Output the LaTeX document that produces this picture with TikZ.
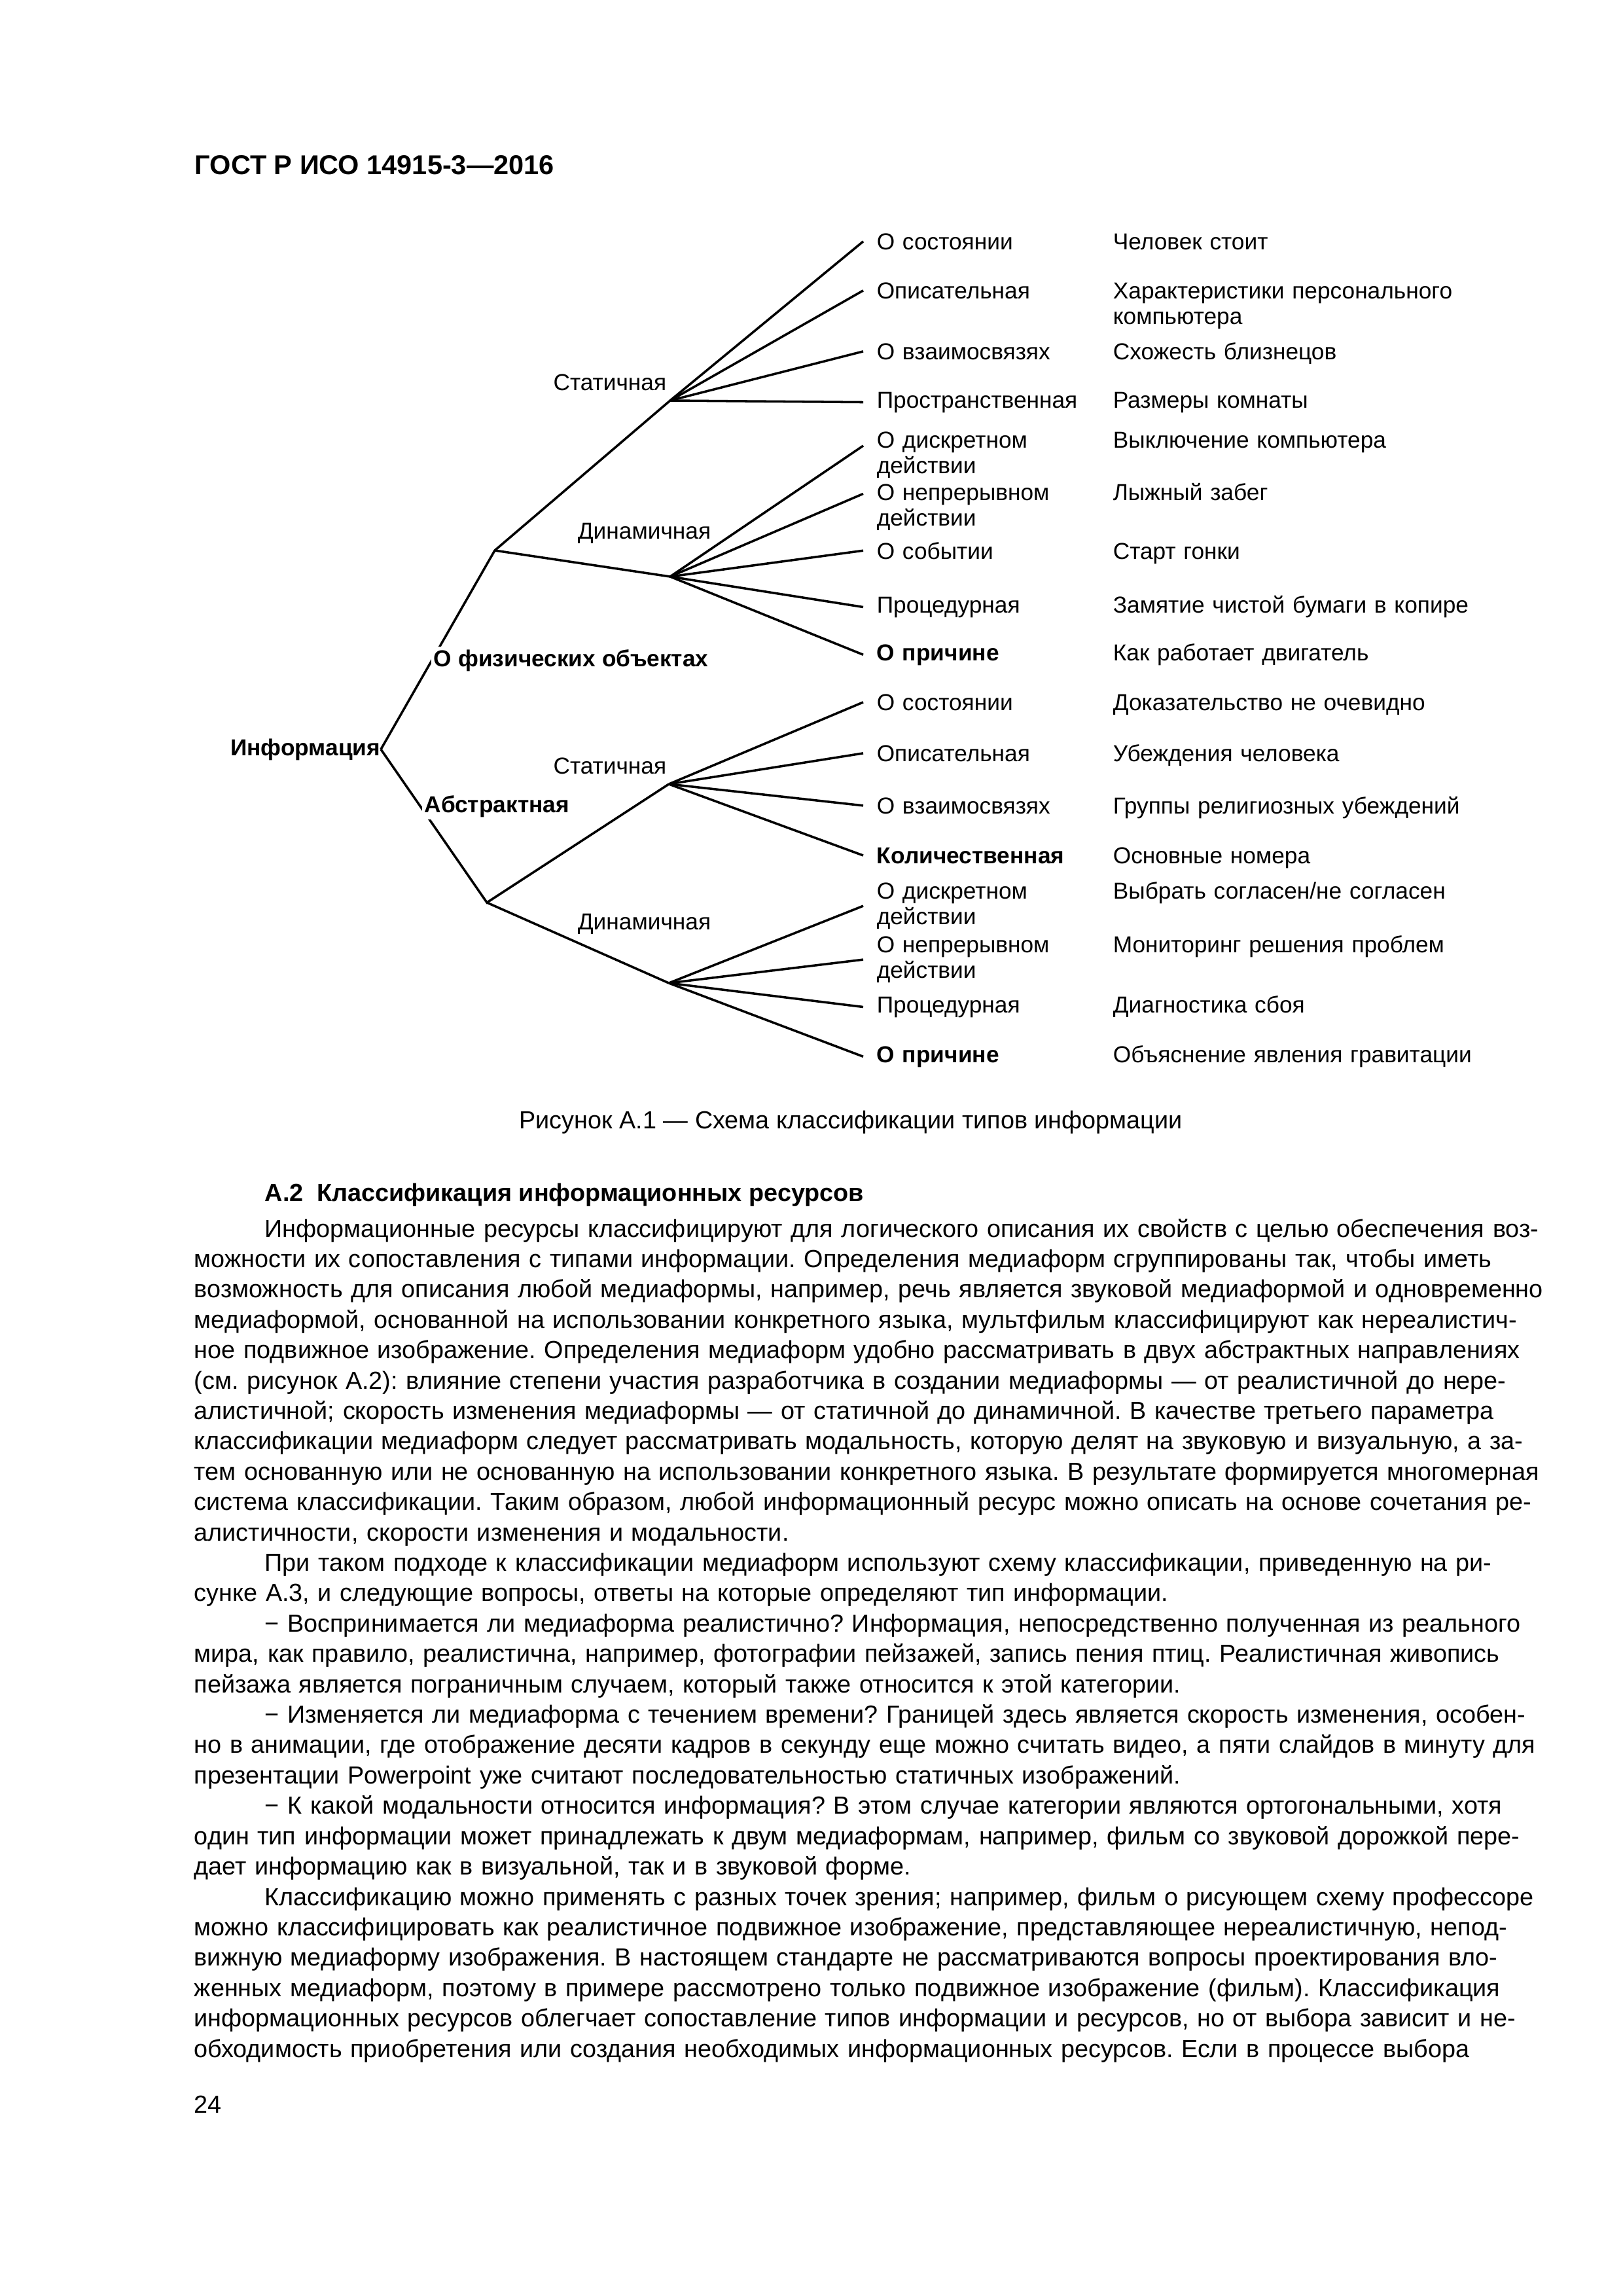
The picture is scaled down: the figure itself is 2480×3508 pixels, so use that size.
\documentclass[tikz,border=0pt]{standalone}
\usepackage{fontspec}
\setmainfont{Liberation Sans}
\frenchspacing
\newcommand\bodyfont{\fontsize{9.1}{11.18}\selectfont}
\newcommand\diagfont{\fontsize{8.5}{9.6}\selectfont}
\newcommand\jline[1]{\makebox[\linewidth][s]{#1}\par}
\newcommand\eline[1]{#1\par}
\newcommand\firstind{\hspace*{26pt}}
\begin{document}
\begin{tikzpicture}[x=0.2409pt,y=-0.2409pt,
	branch/.style={line width=0.85pt},
	lbl/.style={inner sep=0pt,font=\diagfont},
	tp/.style={anchor=base west,inner xsep=4.8pt,inner ysep=0pt,text width=90pt,align=left,font=\diagfont},
	ex/.style={anchor=base west,inner sep=0pt,text width=160pt,align=left,font=\diagfont}]
		\useasboundingbox (0,0) rectangle (2480,3508);
		\node[anchor=base west,inner sep=0pt,font=\fontsize{10}{12}\selectfont\bfseries] (gost) at (297,266) {ГОСТ Р ИСО 14915-3—2016};
		% tree
		\node[lbl,anchor=base east,font=\diagfont\bfseries] (info) at (582,1154) {Информация};
		\coordinate (j1) at (756,841);
		\coordinate (s1) at (1024,612);
		\coordinate (d1) at (1024,881);
		\coordinate (j2) at (744,1379);
		\coordinate (s2) at (1022,1198);
		\coordinate (d2) at (1022,1502);
		\draw[branch] (info.east)--(j1)--(s1);
		\draw[branch] (j1)--(d1);
		\draw[branch] (info.east)--(j2)--(s2);
		\draw[branch] (j2)--(d2);
		\node[anchor=base west,fill=white,inner sep=1pt,font=\diagfont\bfseries] (phys) at (658,1018) {О физических объектах};
		\node[anchor=base west,fill=white,inner sep=1pt,font=\diagfont\bfseries] (abstr) at (644,1241) {Абстрактная};
		\node[lbl,anchor=base east] (stat1) at (1019,596) {Статичная};
		\node[lbl,anchor=base west] (dyn1) at (882,823) {Динамичная};
		\node[lbl,anchor=base east] (stat2) at (1019,1182) {Статичная};
		\node[lbl,anchor=base west] (dyn2) at (882,1420) {Динамичная};
		% leaves
		\node[tp] (t1) at (1319,381) {О состоянии};
		\node[ex] (e1) at (1700,381) {Человек стоит};
		\node[tp] (t2) at (1319,456) {Описательная};
		\node[ex] (e2) at (1700,456) {Характеристики персонального\\компьютера};
		\node[tp] (t3) at (1319,549) {О взаимосвязях};
		\node[ex] (e3) at (1700,549) {Схожесть близнецов};
		\node[tp] (t4) at (1319,623) {Пространственная};
		\node[ex] (e4) at (1700,623) {Размеры комнаты};
		\node[tp] (t5) at (1319,684) {О дискретном\\действии};
		\node[ex] (e5) at (1700,684) {Выключение компьютера};
		\node[tp] (t6) at (1319,764) {О непрерывном\\действии};
		\node[ex] (e6) at (1700,764) {Лыжный забег};
		\node[tp] (t7) at (1319,854) {О событии};
		\node[ex] (e7) at (1700,854) {Старт гонки};
		\node[tp] (t8) at (1319,936) {Процедурная};
		\node[ex] (e8) at (1700,936) {Замятие чистой бумаги в копире};
		\node[tp,font=\diagfont\bfseries] (t9) at (1319,1009) {О причине};
		\node[ex] (e9) at (1700,1009) {Как работает двигатель};
		\node[tp] (t10) at (1319,1085) {О состоянии};
		\node[ex] (e10) at (1700,1085) {Доказательство не очевидно};
		\node[tp] (t11) at (1319,1163) {Описательная};
		\node[ex] (e11) at (1700,1163) {Убеждения человека};
		\node[tp] (t12) at (1319,1243) {О взаимосвязях};
		\node[ex] (e12) at (1700,1243) {Группы религиозных убеждений};
		\node[tp,font=\diagfont\bfseries] (t13) at (1319,1319) {Количественная};
		\node[ex] (e13) at (1700,1319) {Основные номера};
		\node[tp] (t14) at (1319,1373) {О дискретном\\действии};
		\node[ex] (e14) at (1700,1373) {Выбрать согласен/не согласен};
		\node[tp] (t15) at (1319,1455) {О непрерывном\\действии};
		\node[ex] (e15) at (1700,1455) {Мониторинг решения проблем};
		\node[tp] (t16) at (1319,1547) {Процедурная};
		\node[ex] (e16) at (1700,1547) {Диагностика сбоя};
		\node[tp,font=\diagfont\bfseries] (t17) at (1319,1623) {О причине};
		\node[ex] (e17) at (1700,1623) {Объяснение явления гравитации};
		\foreach \k in {1,...,4} \draw[branch] (s1)--(t\k.west);
		\draw[branch] (d1)--([yshift=3.4pt]t5.west);
		\draw[branch] (d1)--([yshift=5pt]t6.west);
		\foreach \k in {7,8,9} \draw[branch] (d1)--(t\k.west);
		\foreach \k in {10,...,13} \draw[branch] (s2)--(t\k.west);
		\foreach \k in {14,...,17} \draw[branch] (d2)--(t\k.west);
		% caption and text
		\node[anchor=base,inner sep=0pt,font=\bodyfont] (cap) at (1300,1724) {Рисунок А.1 — Схема классификации типов информации};
		\node[anchor=base west,inner sep=0pt,font=\bodyfont\bfseries] (head) at (404,1835) {А.2\hspace{5pt}Классификация информационных ресурсов};
		\node[anchor=base west,inner sep=0pt,text width=491.9pt,align=left,font=\bodyfont] (body) at (296,1890) {%
\jline{\firstind Информационные ресурсы классифицируют для логического описания их свойств с целью обеспечения воз-}
\jline{можности их сопоставления с типами информации. Определения медиаформ сгруппированы так, чтобы иметь}
\jline{возможность для описания любой медиаформы, например, речь является звуковой медиаформой и одновременно}
\jline{медиаформой, основанной на использовании конкретного языка, мультфильм классифицируют как нереалистич-}
\jline{ное подвижное изображение. Определения медиаформ удобно рассматривать в двух абстрактных направлениях}
\jline{(см. рисунок А.2): влияние степени участия разработчика в создании медиаформы — от реалистичной до нере-}
\jline{алистичной; скорость изменения медиаформы — от статичной до динамичной. В качестве третьего параметра}
\jline{классификации медиаформ следует рассматривать модальность, которую делят на звуковую и визуальную, а за-}
\jline{тем основанную или не основанную на использовании конкретного языка. В результате формируется многомерная}
\jline{система классификации. Таким образом, любой информационный ресурс можно описать на основе сочетания ре-}
\eline{алистичности, скорости изменения и модальности.}
\jline{\firstind При таком подходе к классификации медиаформ используют схему классификации, приведенную на ри-}
\eline{сунке А.3, и следующие вопросы, ответы на которые определяют тип информации.}
\jline{\firstind − Воспринимается ли медиаформа реалистично? Информация, непосредственно полученная из реального}
\jline{мира, как правило, реалистична, например, фотографии пейзажей, запись пения птиц. Реалистичная живопись}
\eline{пейзажа является пограничным случаем, который также относится к этой категории.}
\jline{\firstind − Изменяется ли медиаформа с течением времени? Границей здесь является скорость изменения, особен-}
\jline{но в анимации, где отображение десяти кадров в секунду еще можно считать видео, а пяти слайдов в минуту для}
\eline{презентации Powerpoint уже считают последовательностью статичных изображений.}
\jline{\firstind − К какой модальности относится информация? В этом случае категории являются ортогональными, хотя}
\jline{один тип информации может принадлежать к двум медиаформам, например, фильм со звуковой дорожкой пере-}
\eline{дает информацию как в визуальной, так и в звуковой форме.}
\jline{\firstind Классификацию можно применять с разных точек зрения; например, фильм о рисующем схему профессоре}
\jline{можно классифицировать как реалистичное подвижное изображение, представляющее нереалистичную, непод-}
\jline{вижную медиаформу изображения. В настоящем стандарте не рассматриваются вопросы проектирования вло-}
\jline{женных медиаформ, поэтому в примере рассмотрено только подвижное изображение (фильм). Классификация}
\jline{информационных ресурсов облегчает сопоставление типов информации и ресурсов, но от выбора зависит и не-}
\jline{обходимость приобретения или создания необходимых информационных ресурсов. Если в процессе выбора}};
		\node[anchor=base west,inner sep=0pt,font=\bodyfont] (pnum) at (296,3228) {24};
\end{tikzpicture}
\end{document}
